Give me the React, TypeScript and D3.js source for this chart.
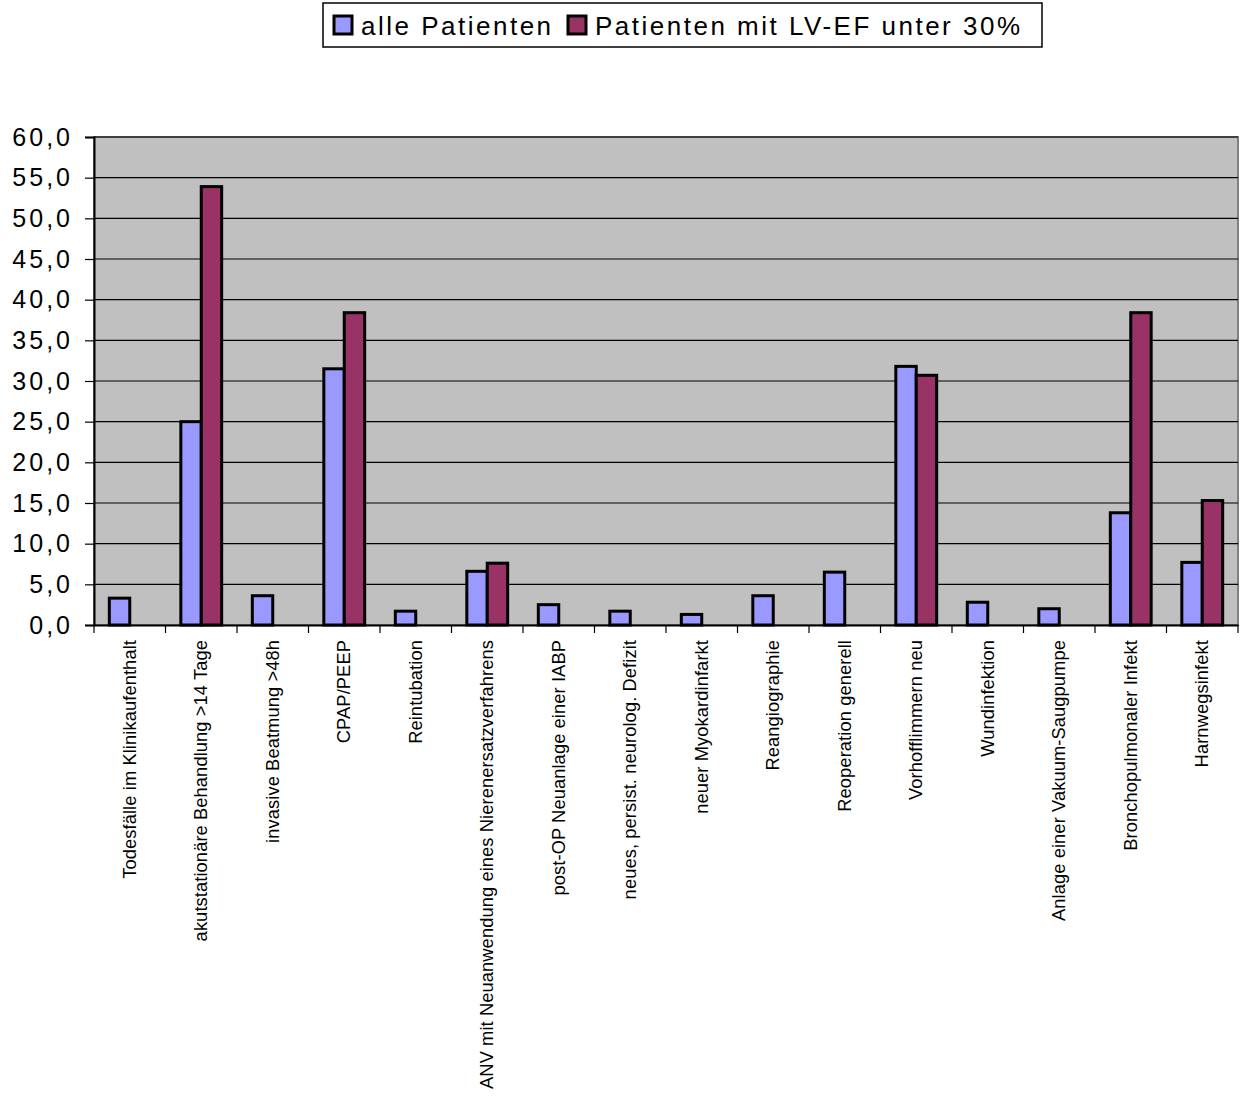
import React, { useRef, useEffect } from 'react';
import * as d3 from 'd3';

const categories = [
  'Todesfälle im Klinikaufenthalt',
  'akutstationäre Behandlung >14 Tage',
  'invasive Beatmung >48h',
  'CPAP/PEEP',
  'Reintubation',
  'ANV mit Neuanwendung eines Nierenersatzverfahrens',
  'post-OP Neuanlage einer IABP',
  'neues, persist. neurolog. Defizit',
  'neuer Myokardinfarkt',
  'Reangiographie',
  'Reoperation generell',
  'Vorhofflimmern neu',
  'Wundinfektion',
  'Anlage einer Vakuum-Saugpumpe',
  'Bronchopulmonaler Infekt',
  'Harnwegsinfekt',
];

const seriesNames = ['alle Patienten', 'Patienten mit LV-EF unter 30%'];
const seriesColors = ['#9999FF', '#993366'];

const allePatienten = [3.3, 25.0, 3.6, 31.5, 1.7, 6.6, 2.5, 1.7, 1.3, 3.6, 6.5, 31.8, 2.8, 2.0, 13.8, 7.7];
const lvefUnter30 = [null, 53.9, null, 38.4, null, 7.6, null, null, null, null, null, 30.7, null, null, 38.4, 15.3];

const yTicks = [0, 5, 10, 15, 20, 25, 30, 35, 40, 45, 50, 55, 60];

const Chart = () => {
  const svgRef = useRef(null);

  useEffect(() => {
    const svg = d3.select(svgRef.current);
    svg.selectAll('*').remove();

    const left = 94, right = 1238, top = 137, bottom = 625;
    const font = 'Liberation Sans, Arial, sans-serif';

    const x0 = d3.scaleBand().domain(categories).range([left, right]).paddingInner(0).paddingOuter(0);
    const bw = x0.bandwidth() / 3.5; // gap width 150%
    const x1 = d3.scaleBand().domain(seriesNames).range([bw * 0.75, x0.bandwidth() - bw * 0.75]);
    const y = d3.scaleLinear().domain([0, 60]).range([bottom, top]);

    const fmt = d3.formatLocale({ decimal: ',', thousands: '.', grouping: [3], currency: ['', ''] }).format('.1f');

    // plot area
    svg.append('rect')
      .attr('x', left).attr('y', top)
      .attr('width', right - left).attr('height', bottom - top)
      .attr('fill', '#C0C0C0').attr('stroke', '#808080').attr('stroke-width', 2);

    // gridlines
    svg.append('g').selectAll('line')
      .data(yTicks.filter(t => t > 0))
      .enter().append('line')
      .attr('x1', left).attr('x2', right)
      .attr('y1', d => y(d)).attr('y2', d => y(d))
      .attr('stroke', '#000').attr('stroke-width', 1.2);

    // y axis
    const yAxis = svg.append('g')
      .attr('transform', `translate(${left},0)`)
      .call(d3.axisLeft(y).tickValues(yTicks).tickFormat(d => fmt(d)).tickSize(9).tickPadding(12));
    yAxis.select('.domain').attr('stroke', '#000').attr('stroke-width', 2);
    yAxis.selectAll('line').attr('stroke', '#000').attr('stroke-width', 1.2);
    yAxis.selectAll('text')
      .attr('font-family', font).attr('font-size', 25)
      .attr('letter-spacing', 3).attr('fill', '#000');

    // bars
    const series = [allePatienten, lvefUnter30];
    series.forEach((vals, si) => {
      svg.append('g').selectAll('rect')
        .data(vals.map((v, i) => ({ v, c: categories[i] })).filter(d => d.v != null))
        .enter().append('rect')
        .attr('x', d => x0(d.c) + x1(seriesNames[si]))
        .attr('y', d => y(d.v))
        .attr('width', x1.bandwidth())
        .attr('height', d => y(0) - y(d.v))
        .attr('fill', seriesColors[si])
        .attr('stroke', '#000').attr('stroke-width', 3);
    });

    // x axis
    const xAxis = svg.append('g')
      .attr('transform', `translate(0,${bottom})`)
      .call(d3.axisBottom(x0).tickSize(0).tickFormat(() => ''));
    xAxis.select('.domain').attr('stroke', '#000').attr('stroke-width', 2);
    svg.append('g').selectAll('line')
      .data(d3.range(categories.length + 1))
      .enter().append('line')
      .attr('x1', i => left + i * x0.step()).attr('x2', i => left + i * x0.step())
      .attr('y1', bottom).attr('y2', bottom + 8)
      .attr('stroke', '#000').attr('stroke-width', 1.2);

    svg.append('g').selectAll('text')
      .data(categories)
      .enter().append('text')
      .attr('transform', d => `translate(${x0(d) + x0.bandwidth() / 2 + 6},${bottom + 15}) rotate(-90)`)
      .attr('text-anchor', 'end')
      .attr('font-family', font).attr('font-size', 18.3)
      .attr('letter-spacing', 0.1)
      .attr('fill', '#000')
      .text(d => d);

    // legend
    const lg = svg.append('g');
    lg.append('rect').attr('x', 323).attr('y', 3).attr('width', 719).attr('height', 44)
      .attr('fill', '#fff').attr('stroke', '#000').attr('stroke-width', 1.5);
    const items = [{ x: 334, tx: 361 }, { x: 568, tx: 595 }];
    items.forEach((it, i) => {
      lg.append('rect').attr('x', it.x).attr('y', 16).attr('width', 18).attr('height', 18)
        .attr('fill', seriesColors[i]).attr('stroke', '#000').attr('stroke-width', 3);
      lg.append('text').attr('x', it.tx).attr('y', 35)
        .attr('font-family', font).attr('font-size', 26).attr('letter-spacing', 2.5)
        .attr('fill', '#000').text(seriesNames[i]);
    });
  }, []);

  return <svg ref={svgRef} width={1240} height={1102} style={{ display: 'block' }} />;
};

export default function App() {
  return (
    <div style={{ position: 'absolute', left: 0, top: 0, background: '#fff' }}>
      <Chart />
    </div>
  );
}
